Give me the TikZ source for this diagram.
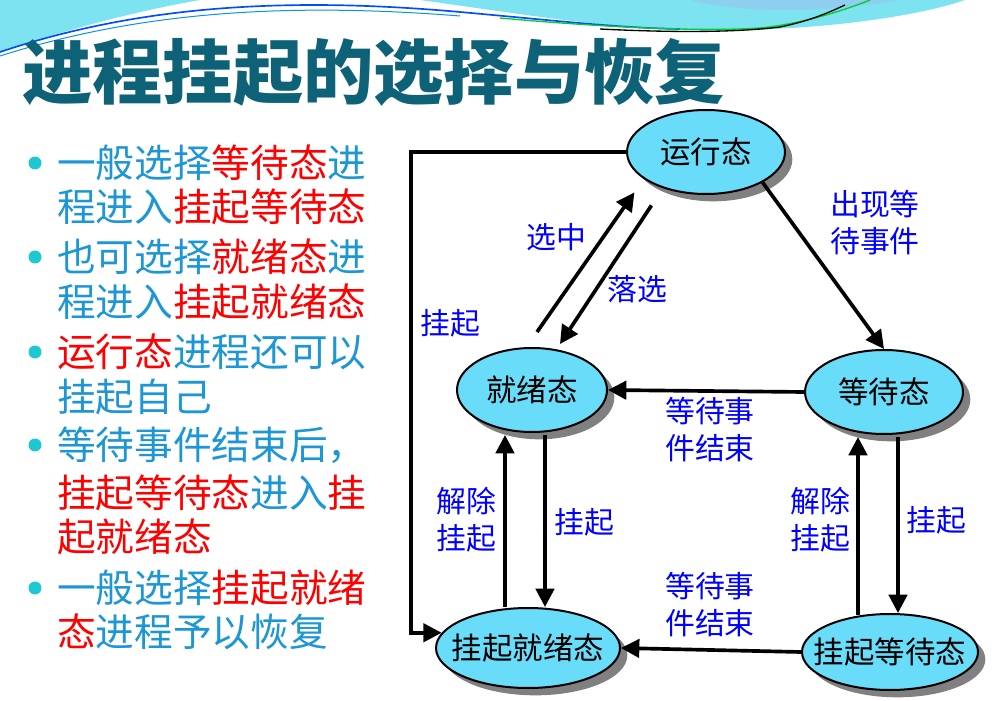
\documentclass[tikz,border=0pt]{standalone}
\usepackage{fontspec}
\setmainfont{Noto Sans CJK SC}
\usepackage{xcolor}
\usepackage{tikz}
\usetikzlibrary{arrows.meta,positioning,shapes.geometric,shadows,calc}
\definecolor{titlec}{RGB}{14,98,120}
\definecolor{bulc}{RGB}{28,150,212}
\definecolor{dotc}{RGB}{29,200,211}
\definecolor{hlred}{RGB}{255,0,0}
\definecolor{stfill}{RGB}{104,220,248}
\definecolor{lblc}{RGB}{0,0,255}
\definecolor{wavea}{RGB}{125,227,240}
\definecolor{waveb}{RGB}{142,206,238}
\newcommand{\hl}[1]{\textcolor{hlred}{#1}}

\begin{document}
\begin{tikzpicture}[x=0.3mm, y=-0.3mm, every node/.style={inner sep=0pt}, txt/.style={anchor=west, text=bulc, font=\fontsize{33}{38}\selectfont}, bulletdot/.style={circle, fill=dotc, minimum size=3.9mm}, stnode/.style={ellipse, draw, line width=0.6mm, fill=stfill, inner xsep=-5mm, inner ysep=0pt, font=\fontsize{26}{30}\selectfont, drop shadow={shadow xshift=2.2mm, shadow yshift=-2.2mm, fill=gray, opacity=1}}, lbl/.style={text=lblc, align=center, font=\fontsize{25.5}{31.5}\selectfont}, arr/.style={-{Triangle[length=5.5mm,width=5.5mm]}, line width=1.1mm}]
\useasboundingbox[fill=white] (0,0) rectangle (994,701);
% top wave
\fill[wavea] (0,0) -- (0,52) .. controls (60,32) and (130,12) .. (200,0) -- cycle;
\fill[wavea] (420,0) .. controls (520,14) and (600,27) .. (680,30) .. controls (780,33) and (900,22) .. (965,0) -- cycle;
\fill[waveb] (690,0) .. controls (740,12) and (810,15) .. (900,0) -- cycle;
\draw[blue!70!cyan, line width=0.5mm] (0,52) .. controls (120,12) and (260,-6) .. (460,12) .. controls (560,21) and (620,28) .. (680,29);
\draw[cyan!80!blue, line width=0.3mm] (0,56) .. controls (120,18) and (260,0) .. (460,16);
\draw[green!60!teal, line width=0.4mm] (500,18) .. controls (600,27) and (700,32) .. (760,28) .. controls (800,24) and (840,12) .. (870,0);
\draw[black, line width=0.4mm] (600,29) .. controls (680,33) and (740,32) .. (780,27) .. controls (810,21) and (830,12) .. (845,5);

\node[anchor=west, text=titlec, font=\fontsize{60}{60}\selectfont\bfseries] (title) at (22,72) {进程挂起的选择与恢复};

% bullets
\node[bulletdot] (d1) at (35,163) {};
\node[txt] (t1) at (57,163) {一般选择\hl{等待态}进};
\node[txt] (t2) at (57,207) {程进入\hl{挂起等待态}};
\node[bulletdot] (d2) at (35,257) {};
\node[txt] (t3) at (57,257) {也可选择\hl{就绪态}进};
\node[txt] (t4) at (57,302) {程进入\hl{挂起就绪态}};
\node[bulletdot] (d3) at (35,352) {};
\node[txt] (t5) at (57,352) {\hl{运行态}进程还可以};
\node[txt] (t6) at (57,397) {挂起自己};
\node[bulletdot] (d4) at (35,445) {};
\node[txt] (t7) at (57,445) {等待事件结束后，};
\node[txt] (t8) at (57,493) {\hl{挂起等待态}进入\hl{挂}};
\node[txt] (t9) at (57,537) {\hl{起就绪态}};
\node[bulletdot] (d5) at (35,588) {};
\node[txt] (t10) at (57,588) {一般选择\hl{挂起就绪}};
\node[txt] (t11) at (57,632) {\hl{态}进程予以恢复};

% states
\node[stnode, minimum width=47.4mm, minimum height=25.2mm] (run) at (706,152) {运行态};
\node[stnode, minimum width=45mm, minimum height=25.2mm] (ready) at (532,390) {就绪态};
\node[stnode, minimum width=47.4mm, minimum height=25.2mm] (wait) at (884,392) {等待态};
\node[stnode, minimum width=55.2mm, minimum height=24mm] (sready) at (528,648) {挂起就绪态};
\node[stnode, minimum width=52.8mm, minimum height=22.8mm] (swait) at (890,652) {挂起等待态};

% transitions
\coordinate (lc) at (411,152);
\draw[arr] (run.west) -- (lc) |- (sready.170);
\draw[arr] (run.south east) -- (wait.north);
\draw[arr] ($(ready.north)+(5,-15)$) -- ($(run.south west)+(-15,10)$);
\draw[arr] ($(run.south west)+(2,23)$) -- ($(ready.north)+(28,-3)$);
\draw[arr] (wait.west) -- (ready.east);
\draw[arr] ($(sready.north)+(-23,0)$) -- ($(ready.south)+(-27,2)$);
\draw[arr] ($(ready.south)+(13,2)$) -- ($(sready.north)+(17,0)$);
\draw[arr] ($(swait.north)+(-32,2)$) -- ($(wait.south)+(-26,2)$);
\draw[arr] ($(wait.south)+(14,2)$) -- ($(swait.north)+(8,0)$);
\draw[arr] (swait.west) -- (sready.east);

% labels
\node[lbl] (lsus) at (450,323) {挂起};
\node[lbl] (lev) at (875,223) {出现等\\待事件};
\node[lbl] (lsel) at (556,237) {选中};
\node[lbl] (ldrop) at (637,289) {落选};
\node[lbl] (lend1) at (710,430) {等待事\\件结束};
\node[lbl] (lres1) at (466,520) {解除\\挂起};
\node[lbl] (lsus1) at (584,522) {挂起};
\node[lbl] (lres2) at (820,520) {解除\\挂起};
\node[lbl] (lsus2) at (936,520) {挂起};
\node[lbl] (lend2) at (710,605) {等待事\\件结束};
\end{tikzpicture}
\end{document}
